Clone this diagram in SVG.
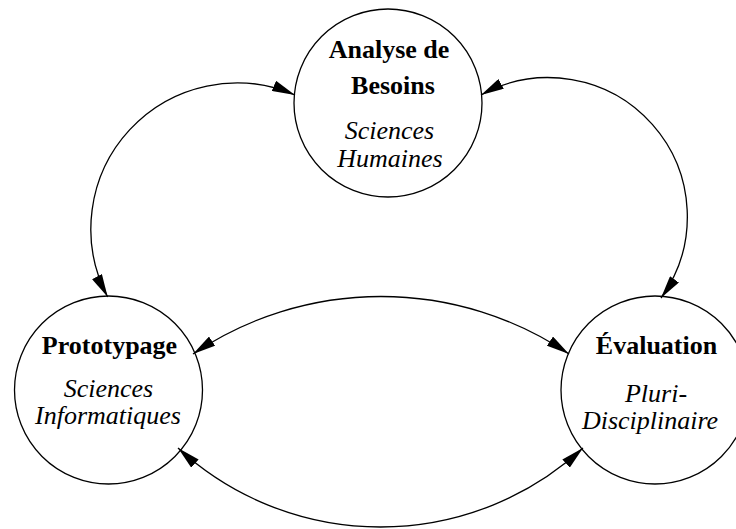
<svg xmlns="http://www.w3.org/2000/svg" width="736" height="529" viewBox="0 0 736 529">
  <style>
    .node { fill: #ffffff; stroke: #000000; stroke-width: 1.3; }
    .edge { fill: none; stroke: #000000; stroke-width: 1.3; marker-start: url(#arrow); marker-end: url(#arrow); }
    .title { font-family: "Liberation Serif", "Times New Roman", serif; font-weight: bold; font-size: 26px; text-anchor: middle; fill: #000000; }
    .sub { font-family: "Liberation Serif", "Times New Roman", serif; font-style: italic; font-size: 26px; text-anchor: middle; fill: #000000; }
  </style>
  <defs>
    <marker id="arrow" markerUnits="userSpaceOnUse" markerWidth="23" markerHeight="11" refX="23" refY="5.5" orient="auto-start-reverse" viewBox="0 0 23 11">
      <path d="M0,0 L23,5.5 L0,11 Z" fill="#000000"/>
    </marker>
  </defs>
  <rect width="736" height="529" fill="#ffffff"/>

  <!-- nodes -->
  <g id="analyse">
    <circle class="node" cx="388" cy="103" r="94"/>
    <text class="title" x="389" y="58">Analyse de</text>
    <text class="title" x="393" y="94">Besoins</text>
    <text class="sub" x="389.5" y="138.5">Sciences</text>
    <text class="sub" x="390" y="166.5">Humaines</text>
  </g>

  <g id="prototypage">
    <circle class="node" cx="108.5" cy="390" r="94"/>
    <text class="title" x="109.5" y="354">Prototypage</text>
    <text class="sub" x="108.5" y="397">Sciences</text>
    <text class="sub" x="108" y="424">Informatiques</text>
  </g>

  <g id="evaluation">
    <circle class="node" cx="655" cy="390" r="94"/>
    <text class="title" x="656.5" y="354">Évaluation</text>
    <text class="sub" x="656" y="402">Pluri-</text>
    <text class="sub" x="650" y="429">Disciplinaire</text>
  </g>

  <!-- connectors -->
  <g id="connectors">
    <path class="edge" d="M295,95 A146,146 0 0 0 107.7,297"/>
    <path class="edge" d="M481,95 A139,139 0 0 1 661,298"/>
    <path class="edge" d="M193,354 A336,336 0 0 1 569,354"/>
    <path class="edge" d="M178,448 A299,299 0 0 0 583,448"/>
  </g>
</svg>
